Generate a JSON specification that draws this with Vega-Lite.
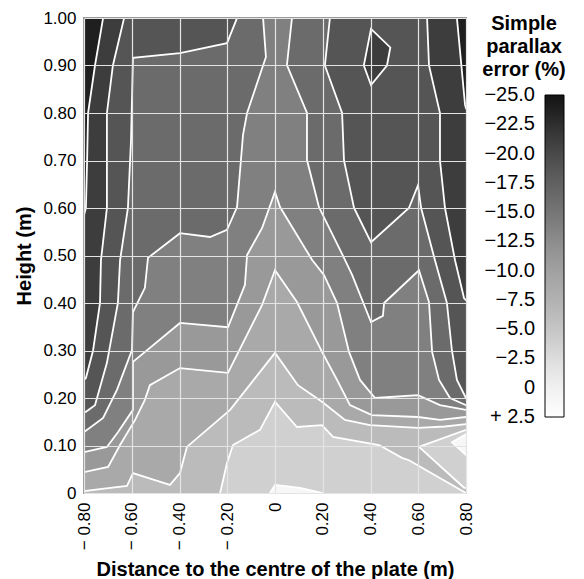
{
"$schema": "https://vega.github.io/schema/vega-lite/v6.json",
"width": 382, "height": 475,
"autosize": {"type": "none"},
"padding": {"left": 84, "top": 18, "right": 118, "bottom": 86},
"config": {"font": "Liberation Sans", "view": {"stroke": "#9a9a9a", "strokeWidth": 2}},
"title": {"text": ["Simple", "parallax", "error (%)"], "orient": "top", "anchor": "end", "frame": "group", "align": "center", "baseline": "bottom", "dx": 58, "dy": 96, "offset": 5, "fontSize": 20, "fontWeight": "bold", "lineHeight": 23, "color": "black"},
"data": {"values": [
{"p":"r8","v":-3.75,"i":0,"x":-0.85,"y":-0.05},{"p":"r8","v":-3.75,"i":1,"x":0.85,"y":-0.05},{"p":"r8","v":-3.75,"i":2,"x":0.85,"y":1.05},{"p":"r8","v":-3.75,"i":3,"x":-0.85,"y":1.05},
{"p":"w1","v":1.25,"i":0,"x":-0.021,"y":-0.05},{"p":"w1","v":1.25,"i":1,"x":-0.021,"y":0},{"p":"w1","v":1.25,"i":2,"x":0.0,"y":0.017},{"p":"w1","v":1.25,"i":3,"x":0.105,"y":0.011},{"p":"w1","v":1.25,"i":4,"x":0.197,"y":0},{"p":"w1","v":1.25,"i":5,"x":0.197,"y":-0.05},
{"p":"r7","v":-6.25,"i":0,"x":-0.23,"y":-0.05},{"p":"r7","v":-6.25,"i":1,"x":-0.23,"y":0},{"p":"r7","v":-6.25,"i":2,"x":-0.201,"y":0.063},{"p":"r7","v":-6.25,"i":3,"x":-0.176,"y":0.101},{"p":"r7","v":-6.25,"i":4,"x":-0.063,"y":0.133},{"p":"r7","v":-6.25,"i":5,"x":0,"y":0.192},{"p":"r7","v":-6.25,"i":6,"x":0.092,"y":0.139},{"p":"r7","v":-6.25,"i":7,"x":0.197,"y":0.143},{"p":"r7","v":-6.25,"i":8,"x":0.243,"y":0.118},{"p":"r7","v":-6.25,"i":9,"x":0.436,"y":0.101},{"p":"r7","v":-6.25,"i":10,"x":0.532,"y":0.074},{"p":"r7","v":-6.25,"i":11,"x":0.561,"y":0.069},{"p":"r7","v":-6.25,"i":12,"x":0.8,"y":0},{"p":"r7","v":-6.25,"i":13,"x":0.85,"y":-0.05},{"p":"r7","v":-6.25,"i":14,"x":0.85,"y":1.05},{"p":"r7","v":-6.25,"i":15,"x":-0.85,"y":1.05},{"p":"r7","v":-6.25,"i":16,"x":-0.85,"y":-0.05},
{"p":"g1","v":-3.75,"i":0,"x":0.603,"y":0.097},{"p":"g1","v":-3.75,"i":1,"x":0.8,"y":0.133},{"p":"g1","v":-3.75,"i":2,"x":0.85,"y":0.133},{"p":"g1","v":-3.75,"i":3,"x":0.85,"y":0.011},{"p":"g1","v":-3.75,"i":4,"x":0.792,"y":0.011},
{"p":"w2","v":1.25,"i":0,"x":0.741,"y":0.107},{"p":"w2","v":1.25,"i":1,"x":0.8,"y":0.124},{"p":"w2","v":1.25,"i":2,"x":0.85,"y":0.124},{"p":"w2","v":1.25,"i":3,"x":0.85,"y":0.08},{"p":"w2","v":1.25,"i":4,"x":0.8,"y":0.08},
{"p":"r6","v":-8.75,"i":0,"x":-0.85,"y":0.004},{"p":"r6","v":-8.75,"i":1,"x":-0.8,"y":0.004},{"p":"r6","v":-8.75,"i":2,"x":-0.733,"y":0.008},{"p":"r6","v":-8.75,"i":3,"x":-0.62,"y":0.015},{"p":"r6","v":-8.75,"i":4,"x":-0.595,"y":0.042},{"p":"r6","v":-8.75,"i":5,"x":-0.44,"y":0.017},{"p":"r6","v":-8.75,"i":6,"x":-0.398,"y":0.042},{"p":"r6","v":-8.75,"i":7,"x":-0.369,"y":0.097},{"p":"r6","v":-8.75,"i":8,"x":-0.188,"y":0.175},{"p":"r6","v":-8.75,"i":9,"x":0,"y":0.295},{"p":"r6","v":-8.75,"i":10,"x":0.096,"y":0.227},{"p":"r6","v":-8.75,"i":11,"x":0.197,"y":0.192},{"p":"r6","v":-8.75,"i":12,"x":0.293,"y":0.154},{"p":"r6","v":-8.75,"i":13,"x":0.398,"y":0.143},{"p":"r6","v":-8.75,"i":14,"x":0.599,"y":0.137},{"p":"r6","v":-8.75,"i":15,"x":0.712,"y":0.14},{"p":"r6","v":-8.75,"i":16,"x":0.8,"y":0.145},{"p":"r6","v":-8.75,"i":17,"x":0.85,"y":0.145},{"p":"r6","v":-8.75,"i":18,"x":0.85,"y":1.05},{"p":"r6","v":-8.75,"i":19,"x":-0.85,"y":1.05},
{"p":"r5","v":-11.25,"i":0,"x":-0.85,"y":0.044},{"p":"r5","v":-11.25,"i":1,"x":-0.8,"y":0.044},{"p":"r5","v":-11.25,"i":2,"x":-0.699,"y":0.055},{"p":"r5","v":-11.25,"i":3,"x":-0.649,"y":0.101},{"p":"r5","v":-11.25,"i":4,"x":-0.586,"y":0.154},{"p":"r5","v":-11.25,"i":5,"x":-0.545,"y":0.196},{"p":"r5","v":-11.25,"i":6,"x":-0.524,"y":0.227},{"p":"r5","v":-11.25,"i":7,"x":-0.398,"y":0.263},{"p":"r5","v":-11.25,"i":8,"x":-0.197,"y":0.253},{"p":"r5","v":-11.25,"i":9,"x":-0.054,"y":0.396},{"p":"r5","v":-11.25,"i":10,"x":0,"y":0.469},{"p":"r5","v":-11.25,"i":11,"x":0.092,"y":0.402},{"p":"r5","v":-11.25,"i":12,"x":0.197,"y":0.297},{"p":"r5","v":-11.25,"i":13,"x":0.26,"y":0.238},{"p":"r5","v":-11.25,"i":14,"x":0.314,"y":0.185},{"p":"r5","v":-11.25,"i":15,"x":0.406,"y":0.164},{"p":"r5","v":-11.25,"i":16,"x":0.599,"y":0.16},{"p":"r5","v":-11.25,"i":17,"x":0.691,"y":0.154},{"p":"r5","v":-11.25,"i":18,"x":0.8,"y":0.16},{"p":"r5","v":-11.25,"i":19,"x":0.85,"y":0.16},{"p":"r5","v":-11.25,"i":20,"x":0.85,"y":1.05},{"p":"r5","v":-11.25,"i":21,"x":-0.85,"y":1.05},
{"p":"r4","v":-13.75,"i":0,"x":-0.85,"y":0.086},{"p":"r4","v":-13.75,"i":1,"x":-0.8,"y":0.086},{"p":"r4","v":-13.75,"i":2,"x":-0.704,"y":0.097},{"p":"r4","v":-13.75,"i":3,"x":-0.658,"y":0.128},{"p":"r4","v":-13.75,"i":4,"x":-0.595,"y":0.175},{"p":"r4","v":-13.75,"i":5,"x":-0.595,"y":0.276},{"p":"r4","v":-13.75,"i":6,"x":-0.398,"y":0.358},{"p":"r4","v":-13.75,"i":7,"x":-0.197,"y":0.349},{"p":"r4","v":-13.75,"i":8,"x":-0.126,"y":0.438},{"p":"r4","v":-13.75,"i":9,"x":-0.117,"y":0.501},{"p":"r4","v":-13.75,"i":10,"x":-0.054,"y":0.558},{"p":"r4","v":-13.75,"i":11,"x":0,"y":0.634},{"p":"r4","v":-13.75,"i":12,"x":0.021,"y":0.602},{"p":"r4","v":-13.75,"i":13,"x":0.155,"y":0.491},{"p":"r4","v":-13.75,"i":14,"x":0.205,"y":0.459},{"p":"r4","v":-13.75,"i":15,"x":0.26,"y":0.4},{"p":"r4","v":-13.75,"i":16,"x":0.31,"y":0.297},{"p":"r4","v":-13.75,"i":17,"x":0.356,"y":0.238},{"p":"r4","v":-13.75,"i":18,"x":0.419,"y":0.2},{"p":"r4","v":-13.75,"i":19,"x":0.599,"y":0.206},{"p":"r4","v":-13.75,"i":20,"x":0.691,"y":0.185},{"p":"r4","v":-13.75,"i":21,"x":0.8,"y":0.175},{"p":"r4","v":-13.75,"i":22,"x":0.85,"y":0.175},{"p":"r4","v":-13.75,"i":23,"x":0.85,"y":1.05},{"p":"r4","v":-13.75,"i":24,"x":-0.85,"y":1.05},
{"p":"r3a","v":-16.25,"i":0,"x":-0.05,"y":1.05},{"p":"r3a","v":-16.25,"i":1,"x":-0.05,"y":1.0},{"p":"r3a","v":-16.25,"i":2,"x":-0.038,"y":0.918},{"p":"r3a","v":-16.25,"i":3,"x":-0.117,"y":0.8},{"p":"r3a","v":-16.25,"i":4,"x":-0.134,"y":0.754},{"p":"r3a","v":-16.25,"i":5,"x":-0.159,"y":0.602},{"p":"r3a","v":-16.25,"i":6,"x":-0.201,"y":0.554},{"p":"r3a","v":-16.25,"i":7,"x":-0.272,"y":0.539},{"p":"r3a","v":-16.25,"i":8,"x":-0.398,"y":0.547},{"p":"r3a","v":-16.25,"i":9,"x":-0.532,"y":0.495},{"p":"r3a","v":-16.25,"i":10,"x":-0.545,"y":0.432},{"p":"r3a","v":-16.25,"i":11,"x":-0.595,"y":0.381},{"p":"r3a","v":-16.25,"i":12,"x":-0.599,"y":0.301},{"p":"r3a","v":-16.25,"i":13,"x":-0.662,"y":0.217},{"p":"r3a","v":-16.25,"i":14,"x":-0.72,"y":0.158},{"p":"r3a","v":-16.25,"i":15,"x":-0.8,"y":0.128},{"p":"r3a","v":-16.25,"i":16,"x":-0.85,"y":0.128},{"p":"r3a","v":-16.25,"i":17,"x":-0.85,"y":1.05},
{"p":"r3b","v":-16.25,"i":0,"x":0.071,"y":1.05},{"p":"r3b","v":-16.25,"i":1,"x":0.071,"y":1.0},{"p":"r3b","v":-16.25,"i":2,"x":0.05,"y":0.901},{"p":"r3b","v":-16.25,"i":3,"x":0.134,"y":0.8},{"p":"r3b","v":-16.25,"i":4,"x":0.134,"y":0.701},{"p":"r3b","v":-16.25,"i":5,"x":0.184,"y":0.602},{"p":"r3b","v":-16.25,"i":6,"x":0.293,"y":0.491},{"p":"r3b","v":-16.25,"i":7,"x":0.323,"y":0.459},{"p":"r3b","v":-16.25,"i":8,"x":0.402,"y":0.36},{"p":"r3b","v":-16.25,"i":9,"x":0.452,"y":0.373},{"p":"r3b","v":-16.25,"i":10,"x":0.457,"y":0.4},{"p":"r3b","v":-16.25,"i":11,"x":0.603,"y":0.469},{"p":"r3b","v":-16.25,"i":12,"x":0.645,"y":0.402},{"p":"r3b","v":-16.25,"i":13,"x":0.658,"y":0.297},{"p":"r3b","v":-16.25,"i":14,"x":0.687,"y":0.238},{"p":"r3b","v":-16.25,"i":15,"x":0.733,"y":0.2},{"p":"r3b","v":-16.25,"i":16,"x":0.8,"y":0.185},{"p":"r3b","v":-16.25,"i":17,"x":0.85,"y":0.185},{"p":"r3b","v":-16.25,"i":18,"x":0.85,"y":1.05},
{"p":"r2a","v":-18.75,"i":0,"x":-0.159,"y":1.05},{"p":"r2a","v":-18.75,"i":1,"x":-0.159,"y":1.0},{"p":"r2a","v":-18.75,"i":2,"x":-0.201,"y":0.947},{"p":"r2a","v":-18.75,"i":3,"x":-0.398,"y":0.926},{"p":"r2a","v":-18.75,"i":4,"x":-0.595,"y":0.916},{"p":"r2a","v":-18.75,"i":5,"x":-0.603,"y":0.743},{"p":"r2a","v":-18.75,"i":6,"x":-0.616,"y":0.6},{"p":"r2a","v":-18.75,"i":7,"x":-0.649,"y":0.49},{"p":"r2a","v":-18.75,"i":8,"x":-0.658,"y":0.4},{"p":"r2a","v":-18.75,"i":9,"x":-0.704,"y":0.274},{"p":"r2a","v":-18.75,"i":10,"x":-0.754,"y":0.185},{"p":"r2a","v":-18.75,"i":11,"x":-0.792,"y":0.171},{"p":"r2a","v":-18.75,"i":12,"x":-0.8,"y":0.171},{"p":"r2a","v":-18.75,"i":13,"x":-0.85,"y":0.171},{"p":"r2a","v":-18.75,"i":14,"x":-0.85,"y":1.05},
{"p":"r2b","v":-18.75,"i":0,"x":0.23,"y":1.05},{"p":"r2b","v":-18.75,"i":1,"x":0.23,"y":1.0},{"p":"r2b","v":-18.75,"i":2,"x":0.209,"y":0.9},{"p":"r2b","v":-18.75,"i":3,"x":0.281,"y":0.8},{"p":"r2b","v":-18.75,"i":4,"x":0.289,"y":0.7},{"p":"r2b","v":-18.75,"i":5,"x":0.331,"y":0.6},{"p":"r2b","v":-18.75,"i":6,"x":0.402,"y":0.528},{"p":"r2b","v":-18.75,"i":7,"x":0.561,"y":0.6},{"p":"r2b","v":-18.75,"i":8,"x":0.599,"y":0.648},{"p":"r2b","v":-18.75,"i":9,"x":0.612,"y":0.6},{"p":"r2b","v":-18.75,"i":10,"x":0.67,"y":0.49},{"p":"r2b","v":-18.75,"i":11,"x":0.72,"y":0.4},{"p":"r2b","v":-18.75,"i":12,"x":0.741,"y":0.3},{"p":"r2b","v":-18.75,"i":13,"x":0.762,"y":0.238},{"p":"r2b","v":-18.75,"i":14,"x":0.8,"y":0.2},{"p":"r2b","v":-18.75,"i":15,"x":0.85,"y":0.2},{"p":"r2b","v":-18.75,"i":16,"x":0.85,"y":1.05},
{"p":"r1a","v":-21.25,"i":0,"x":-0.632,"y":1.05},{"p":"r1a","v":-21.25,"i":1,"x":-0.632,"y":1.0},{"p":"r1a","v":-21.25,"i":2,"x":-0.679,"y":0.9},{"p":"r1a","v":-21.25,"i":3,"x":-0.704,"y":0.8},{"p":"r1a","v":-21.25,"i":4,"x":-0.704,"y":0.6},{"p":"r1a","v":-21.25,"i":5,"x":-0.729,"y":0.49},{"p":"r1a","v":-21.25,"i":6,"x":-0.733,"y":0.4},{"p":"r1a","v":-21.25,"i":7,"x":-0.762,"y":0.3},{"p":"r1a","v":-21.25,"i":8,"x":-0.792,"y":0.242},{"p":"r1a","v":-21.25,"i":9,"x":-0.8,"y":0.238},{"p":"r1a","v":-21.25,"i":10,"x":-0.85,"y":0.238},{"p":"r1a","v":-21.25,"i":11,"x":-0.85,"y":1.05},
{"p":"r1b","v":-21.25,"i":0,"x":0.637,"y":1.05},{"p":"r1b","v":-21.25,"i":1,"x":0.637,"y":1.0},{"p":"r1b","v":-21.25,"i":2,"x":0.645,"y":0.9},{"p":"r1b","v":-21.25,"i":3,"x":0.691,"y":0.8},{"p":"r1b","v":-21.25,"i":4,"x":0.691,"y":0.7},{"p":"r1b","v":-21.25,"i":5,"x":0.712,"y":0.6},{"p":"r1b","v":-21.25,"i":6,"x":0.754,"y":0.49},{"p":"r1b","v":-21.25,"i":7,"x":0.792,"y":0.41},{"p":"r1b","v":-21.25,"i":8,"x":0.8,"y":0.406},{"p":"r1b","v":-21.25,"i":9,"x":0.85,"y":0.406},{"p":"r1b","v":-21.25,"i":10,"x":0.85,"y":1.05},
{"p":"r1c","v":-21.25,"i":0,"x":0.402,"y":0.977},{"p":"r1c","v":-21.25,"i":1,"x":0.483,"y":0.938},{"p":"r1c","v":-21.25,"i":2,"x":0.469,"y":0.9},{"p":"r1c","v":-21.25,"i":3,"x":0.402,"y":0.859},{"p":"r1c","v":-21.25,"i":4,"x":0.372,"y":0.9},
{"p":"r0a","v":-23.75,"i":0,"x":-0.72,"y":1.05},{"p":"r0a","v":-23.75,"i":1,"x":-0.72,"y":1.0},{"p":"r0a","v":-23.75,"i":2,"x":-0.754,"y":0.9},{"p":"r0a","v":-23.75,"i":3,"x":-0.783,"y":0.8},{"p":"r0a","v":-23.75,"i":4,"x":-0.787,"y":0.7},{"p":"r0a","v":-23.75,"i":5,"x":-0.792,"y":0.6},{"p":"r0a","v":-23.75,"i":6,"x":-0.8,"y":0.585},{"p":"r0a","v":-23.75,"i":7,"x":-0.85,"y":0.585},{"p":"r0a","v":-23.75,"i":8,"x":-0.85,"y":1.05},
{"p":"r0b","v":-23.75,"i":0,"x":0.762,"y":1.05},{"p":"r0b","v":-23.75,"i":1,"x":0.762,"y":1.0},{"p":"r0b","v":-23.75,"i":2,"x":0.796,"y":0.817},{"p":"r0b","v":-23.75,"i":3,"x":0.8,"y":0.81},{"p":"r0b","v":-23.75,"i":4,"x":0.85,"y":0.81},{"p":"r0b","v":-23.75,"i":5,"x":0.85,"y":1.05}
]},
"mark": {"type": "line", "interpolate": "linear-closed", "clip": true, "stroke": "white", "strokeWidth": 1.8, "strokeJoin": "miter"},
"encoding": {
"x": {"field": "x", "type": "quantitative", "scale": {"domain": [-0.8, 0.8], "nice": false, "zero": false},
 "axis": {"values": [-0.8, -0.6, -0.4, -0.2, 0, 0.2, 0.4, 0.6, 0.8], "labelExpr": "datum.value == 0 ? '0' : (datum.value < 0 ? '\u2212 ' + format(-datum.value, '.2f') : format(datum.value, '.2f'))", "labelAngle": -90, "labelFontSize": 17, "labelColor": "black", "labelFlush": false, "labelOverlap": false, "labelBound": false, "ticks": false, "labelPadding": 9, "domain": false, "gridColor": "#e4e4e4", "gridWidth": 1.2, "zindex": 1, "title": "Distance to the centre of the plate (m)", "titleFontSize": 20, "titleFontWeight": "bold", "titleColor": "black", "titlePadding": 10}},
"y": {"field": "y", "type": "quantitative", "scale": {"domain": [0, 1], "nice": false, "zero": false},
 "axis": {"values": [0, 0.1, 0.2, 0.3, 0.4, 0.5, 0.6, 0.7, 0.8, 0.9, 1], "labelExpr": "datum.value == 0 ? '0' : format(datum.value, '.2f')", "labelFontSize": 17, "labelColor": "black", "labelOverlap": false, "labelFlush": false, "ticks": false, "labelPadding": 8, "domain": false, "gridColor": "#e4e4e4", "gridWidth": 1.2, "zindex": 1, "title": "Height (m)", "titleFontSize": 20, "titleFontWeight": "bold", "titleColor": "black", "titlePadding": 8}},
"fill": {"field": "v", "type": "quantitative",
 "scale": {"domain": [2.5, -1.25, -3.75, -6.25, -8.75, -11.25, -13.75, -16.25, -18.75, -21.25, -23.75, -25], "range": ["#ffffff", "#e8e8e8", "#d0d0d0", "#bbbbbb", "#a9a9a9", "#999999", "#808080", "#6b6b6b", "#555555", "#3d3d3d", "#1f1f1f", "#141414"]},
 "legend": {"title": null, "orient": "none", "legendX": 461, "legendY": 77, "direction": "vertical", "gradientLength": 322, "gradientThickness": 19, "gradientStrokeColor": "black", "gradientStrokeWidth": 1, "values": [-25, -22.5, -20, -17.5, -15, -12.5, -10, -7.5, -5, -2.5, 0, 2.5], "labelExpr": "datum.value > 0 ? '+ ' + format(datum.value, '.1f') : (datum.value == 0 ? '0' : '\u2212' + format(-datum.value, '.1f'))", "labelOffset": -29, "labelFontSize": 20, "labelColor": "black", "labelOverlap": false,
  "encode": {"labels": {"update": {"align": {"value": "right"}, "baseline": {"value": "middle"}}}}}},
"detail": {"field": "p", "type": "nominal"},
"order": {"field": "i", "type": "quantitative"}
}
}
